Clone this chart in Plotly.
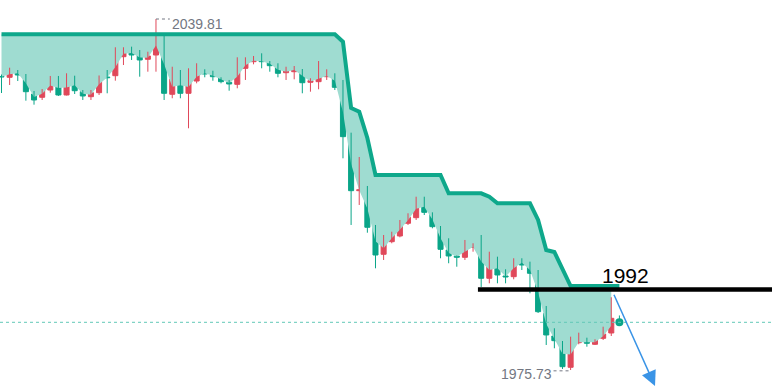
import plotly.graph_objects as go

# ---- data (prices) ----
OPEN = [2029.32, 2029.17, 2030.19, 2029.59, 2026.12, 2025.52, 2026.85, 2028.49, 2025.94, 2028.68,
        2026.54, 2025.63, 2026.36, 2029.22, 2029.46, 2032.93, 2033.97, 2033.24, 2032.46, 2033.24,
        2036.89, 2026.07, 2029.17, 2026.25, 2028.49, 2030.01, 2029.59, 2029.17, 2028.26, 2027.89,
        2030.81, 2032.02, 2032.20, 2032.02, 2031.23, 2030.01, 2030.19, 2030.68, 2028.26, 2028.37,
        2029.28, 2029.77, 2027.34, 2018.22, 2008.47, 2008.60, 2001.79, 1996.86, 1999.16, 2000.20,
        2002.52, 2003.54, 2006.59, 2004.52, 2001.79, 1997.64, 1996.55, 1996.31, 1998.14, 1998.56,
        1992.48, 1995.51, 1992.90, 1992.77, 1995.69, 1994.59, 1993.39, 1986.09, 1981.94, 1981.03,
        1976.23, 1980.72, 1981.03, 1980.43, 1981.52, 1982.49, 1984.77]
HIGH = [2029.68, 2030.92, 2030.50, 2029.77, 2026.67, 2027.03, 2029.41, 2029.41, 2029.90, 2029.46,
        2026.85, 2026.85, 2029.50, 2030.50, 2034.65, 2034.65, 2034.76, 2034.15, 2033.84, 2039.81,
        2036.89, 2031.10, 2030.50, 2030.81, 2031.73, 2030.63, 2030.37, 2029.17, 2028.68, 2032.82,
        2032.82, 2033.06, 2033.55, 2032.14, 2031.73, 2031.10, 2031.23, 2030.68, 2028.99, 2032.14,
        2030.63, 2029.90, 2028.68, 2019.06, 2014.62, 2009.33, 2002.21, 2000.38, 2000.98, 2003.12,
        2004.34, 2007.37, 2007.37, 2004.52, 2002.02, 1999.78, 1996.64, 1999.47, 1998.87, 2000.38,
        1997.33, 1996.42, 1994.12, 1996.13, 1996.13, 1995.51, 1993.99, 1987.42, 1983.35, 1981.03,
        1981.82, 1982.55, 1981.63, 1981.34, 1983.64, 1989.01, 1985.69]
LOW = [2026.30, 2027.76, 2028.49, 2024.90, 2024.17, 2025.03, 2026.36, 2025.76, 2025.85, 2026.12,
       2025.03, 2025.03, 2025.94, 2026.25, 2028.55, 2031.41, 2032.33, 2029.28, 2030.19, 2030.19,
       2025.03, 2025.34, 2025.34, 2019.86, 2028.07, 2029.17, 2028.55, 2028.07, 2026.72, 2027.16,
       2028.68, 2031.54, 2030.81, 2030.19, 2029.17, 2028.68, 2028.80, 2026.25, 2026.54, 2026.98,
       2028.68, 2026.85, 2014.38, 2002.21, 2005.86, 2000.80, 1994.30, 1995.82, 1998.87, 1999.96,
       2002.21, 2003.12, 2004.03, 2001.60, 1996.13, 1995.22, 1994.59, 1995.82, 1997.33, 1990.89,
       1991.56, 1991.56, 1991.56, 1992.29, 1993.99, 1989.74, 1986.14, 1980.30, 1979.70, 1975.92,
       1975.73, 1980.43, 1979.99, 1980.30, 1981.21, 1981.94, 1983.95]
CLOSE = [2029.22, 2030.32, 2029.59, 2026.54, 2025.03, 2026.85, 2028.49, 2025.94, 2028.68, 2026.72,
         2025.76, 2026.36, 2029.41, 2029.08, 2032.51, 2033.97, 2033.24, 2032.33, 2033.06, 2036.71,
         2026.25, 2028.86, 2026.25, 2028.55, 2030.08, 2029.77, 2029.28, 2028.37, 2027.95, 2030.68,
         2031.91, 2032.33, 2032.02, 2031.29, 2029.90, 2030.32, 2030.81, 2028.18, 2028.55, 2029.41,
         2029.53, 2027.34, 2018.33, 2008.47, 2008.65, 2001.79, 1996.73, 1999.05, 2000.38, 2002.52,
         2003.61, 2006.77, 2004.52, 2001.90, 1997.77, 1996.55, 1996.31, 1998.37, 1998.25, 1992.48,
         1995.51, 1993.08, 1992.71, 1995.82, 1994.90, 1993.39, 1986.38, 1982.13, 1981.09, 1976.34,
         1980.90, 1980.90, 1980.61, 1981.21, 1982.31, 1985.17, 1984.44]
SUPERTREND = [2037.02, 2037.02, 2037.02, 2037.02, 2037.02, 2037.02, 2037.02, 2037.02, 2037.02, 2037.02,
              2037.02, 2037.02, 2037.02, 2037.02, 2037.02, 2037.02, 2037.02, 2037.02, 2037.02, 2037.02,
              2037.02, 2037.02, 2037.02, 2037.02, 2037.02, 2037.02, 2037.02, 2037.02, 2037.02, 2037.02,
              2037.02, 2037.02, 2037.02, 2037.02, 2037.02, 2037.02, 2037.02, 2037.02, 2037.02, 2037.02,
              2037.02, 2037.02, 2035.67, 2023.57, 2022.89, 2018.09, 2011.33, 2011.33, 2011.33, 2011.33,
              2011.33, 2011.33, 2011.33, 2011.33, 2011.33, 2007.99, 2007.99, 2007.99, 2007.99, 2007.99,
              2007.37, 2006.17, 2006.17, 2006.17, 2006.17, 2006.17, 2003.12, 1997.64, 1997.28, 1994.36,
              1991.05, 1991.05, 1991.05, 1991.05, 1991.05, 1991.05, 1991.05]

LEVEL = 1990.43
LEVEL_LABEL = "1992"
HIGH_LABEL = "2039.81"
LOW_LABEL = "1975.73"
ARROW_X = [75.25, 80.38]      # tail, head (bar index)
ARROW_Y = [1989.74, 1972.82]  # tail, head (price)

# ---- styles ----
RED = "#e0485a"
GREEN = "#0aa588"
ST_COLOR = "#0ea88b"
FILL = "#9fdcd1"
GRAY = "#737782"
BODY_W = 0.62

N = len(CLOSE)
X = list(range(N))
MID = [(o + c) / 2 for o, c in zip(OPEN, CLOSE)]
FILL_N = N - 1
i_hi = HIGH.index(max(HIGH))
i_lo = LOW.index(min(LOW))
up = [c >= o for o, c in zip(OPEN, CLOSE)]  # red = rising, green = falling


def wick_xy(sel):
    xs, ys = [], []
    for i in X:
        if up[i] == sel:
            xs += [i, i, None]
            ys += [LOW[i], HIGH[i], None]
    return xs, ys


fig = go.Figure()
# fill between body middle and supertrend
fig.add_trace(go.Scatter(x=X[:FILL_N], y=MID[:FILL_N], mode="lines", line=dict(width=0, color=FILL),
                         hoverinfo="skip", showlegend=False))
fig.add_trace(go.Scatter(x=X[:FILL_N], y=SUPERTREND[:FILL_N], mode="lines", line=dict(width=0, color=FILL),
                         fill="tonexty", fillcolor=FILL, hoverinfo="skip", showlegend=False))
# wicks
for sel, col in ((True, RED), (False, GREEN)):
    wx, wy = wick_xy(sel)
    fig.add_trace(go.Scatter(x=wx, y=wy, mode="lines", line=dict(color=col, width=1),
                             hoverinfo="skip", showlegend=False, connectgaps=False))
# supertrend line
fig.add_trace(go.Scatter(x=X, y=SUPERTREND, mode="lines", line=dict(color=ST_COLOR, width=4),
                         hoverinfo="skip", showlegend=False))
# bodies
for sel, col in ((True, RED), (False, GREEN)):
    bx = [i for i in X if up[i] == sel]
    fig.add_trace(go.Bar(
        x=bx, base=[min(OPEN[i], CLOSE[i]) for i in bx], y=[abs(CLOSE[i] - OPEN[i]) for i in bx],
        width=BODY_W, marker=dict(color=col, line=dict(color=col, width=1)),
        hoverinfo="skip", showlegend=False))
# live price dot
fig.add_trace(go.Scatter(x=[X[-1]], y=[CLOSE[-1]], mode="markers", marker=dict(size=8, color=GREEN),
                         hoverinfo="skip", showlegend=False))

XMIN, XMAX = -0.185, 94.77
YMIN, YMAX = 1971.9, 2043.28

shapes = [
    dict(type="line", xref="paper", x0=0, x1=1, yref="y", y0=CLOSE[-1], y1=CLOSE[-1],
         line=dict(color="#62c9b7", width=1, dash="3px,3px")),
    dict(type="line", xref="x", x0=58.6, x1=XMAX, yref="y", y0=LEVEL, y1=LEVEL,
         line=dict(color="black", width=4.5)),
    dict(type="line", xref="x", x0=i_hi, x1=20.7, yref="y", y0=HIGH[i_hi], y1=HIGH[i_hi],
         line=dict(color=GRAY, width=1, dash="dot")),
    dict(type="line", xref="x", x0=67.9, x1=i_lo, yref="y", y0=LOW[i_lo] - 0.15, y1=LOW[i_lo] - 0.15,
         line=dict(color=GRAY, width=1, dash="dot")),
]

annotations = [
    dict(x=76.8, y=1992.99, xref="x", yref="y", text=LEVEL_LABEL, showarrow=False,
         font=dict(size=21, color="black", family="Liberation Sans, Arial"), xanchor="center", yanchor="middle"),
    dict(x=20.75, y=2038.90, xref="x", yref="y", text=HIGH_LABEL, showarrow=False,
         font=dict(size=14, color=GRAY, family="Liberation Sans, Arial"), xanchor="left", yanchor="middle"),
    dict(x=67.9, y=1974.92, xref="x", yref="y", text=LOW_LABEL, showarrow=False,
         font=dict(size=14, color=GRAY, family="Liberation Sans, Arial"), xanchor="right", yanchor="middle"),
    dict(x=ARROW_X[1], y=ARROW_Y[1], ax=ARROW_X[0], ay=ARROW_Y[0], xref="x", yref="y",
         axref="x", ayref="y", text="", showarrow=True, arrowhead=2, arrowsize=2.0,
         arrowwidth=1.5, arrowcolor="#3a94e6", standoff=0),
]

fig.update_layout(
    width=772, height=391, margin=dict(l=0, r=0, t=0, b=0),
    paper_bgcolor="white", plot_bgcolor="white",
    barmode="overlay",
    xaxis=dict(range=[XMIN, XMAX], visible=False, fixedrange=True),
    yaxis=dict(range=[YMIN, YMAX], visible=False, fixedrange=True),
    shapes=shapes, annotations=annotations, showlegend=False,
)

fig.write_html("out.html", config={"displayModeBar": False},
               post_script="document.body.style.margin='0px';")
